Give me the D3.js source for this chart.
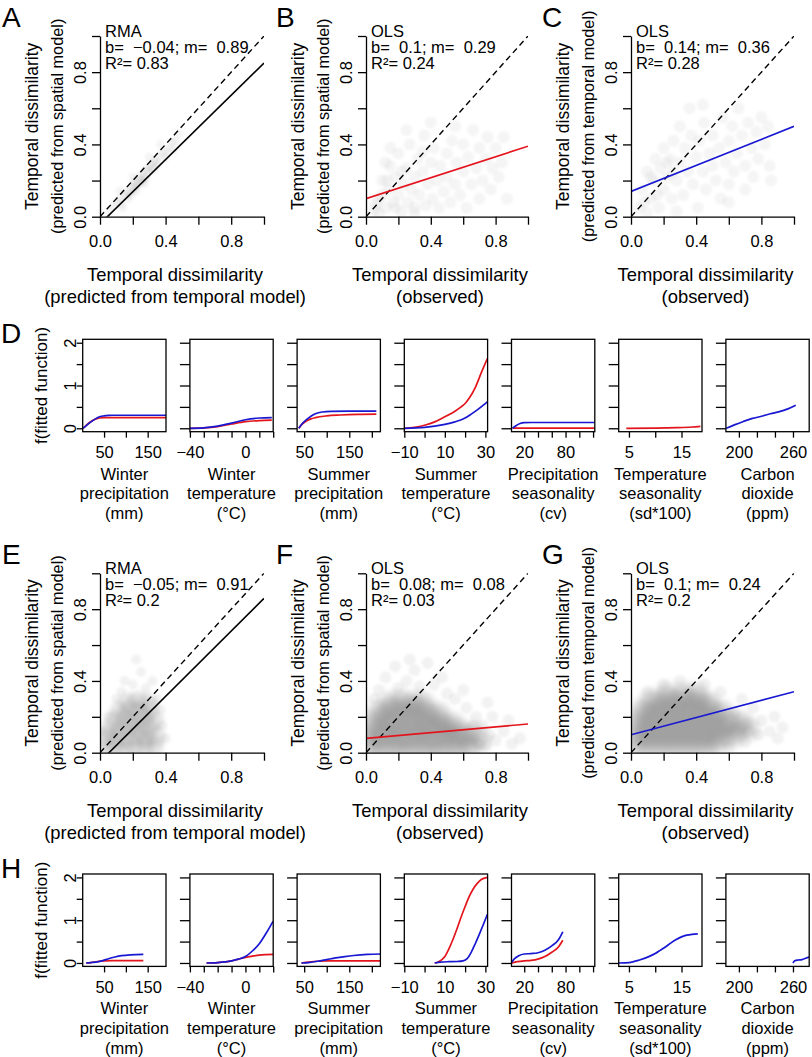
<!DOCTYPE html>
<html><head><meta charset="utf-8">
<script src="https://cdn.jsdelivr.net/npm/d3@7"></script>
<style>
body{margin:0;background:#fff}
svg text{font-family:"Liberation Sans",Arial,Helvetica,sans-serif;fill:#000}
</style>
</head><body>
<svg id="chart" width="812" height="1057"></svg>
<script>
// ---------------- DATA ----------------
const panelLetters = ["A","B","C","E","F","G"];
const fitMethods   = ["RMA","OLS","OLS","RMA","OLS","OLS"];
const fitB  = [-0.04, 0.1, 0.14, -0.05, 0.08, 0.1];
const fitM  = [0.89, 0.29, 0.36, 0.91, 0.08, 0.24];
const fitR2 = ["0.83","0.24","0.28","0.2","0.03","0.2"];
const fitKinds = ["rma","spatial","temporal","rma","spatial","temporal"];
const yLabel1 = "Temporal dissimilarity";
const xLabel1 = "Temporal dissimilarity";
const yLabel2 = ["(predicted from spatial model)","(predicted from spatial model)","(predicted from temporal model)",
                 "(predicted from spatial model)","(predicted from spatial model)","(predicted from temporal model)"];
const xLabel2 = ["(predicted from temporal model)","(observed)","(observed)",
                 "(predicted from temporal model)","(observed)","(observed)"];
const scatterTicks = [0,0.2,0.4,0.6,0.8,1.0];
const scatterTickLabels = [0,0.4,0.8];

// estimated point clouds
const cloudA = [[0.06,0.03],[0.08,0.06],[0.1,0.08],[0.12,0.1],[0.13,0.07],[0.15,0.12],[0.16,0.14],[0.18,0.13],[0.19,0.17],[0.2,0.15],
 [0.21,0.19],[0.22,0.17],[0.23,0.2],[0.24,0.22],[0.25,0.2],[0.26,0.24],[0.27,0.22],[0.28,0.26],[0.29,0.25],[0.3,0.27],
 [0.31,0.29],[0.32,0.26],[0.33,0.3],[0.34,0.31],[0.35,0.29],[0.36,0.33],[0.38,0.35],[0.4,0.36],[0.42,0.38],[0.44,0.41],
 [0.46,0.42],[0.48,0.46],[0.17,0.1],[0.22,0.14],[0.27,0.18],[0.12,0.14],[0.2,0.22],[0.3,0.33],[0.37,0.4],[0.14,0.05],
 [0.24,0.18],[0.26,0.2],[0.28,0.21],[0.21,0.16],[0.19,0.12],[0.33,0.27],[0.4,0.33],[0.45,0.37]];
const cloudB = [[0.05,0.04],[0.08,0.1],[0.1,0.2],[0.12,0.05],[0.14,0.15],[0.15,0.28],[0.17,0.08],[0.18,0.22],[0.2,0.12],[0.2,0.35],
 [0.22,0.03],[0.23,0.18],[0.25,0.27],[0.26,0.08],[0.27,0.4],[0.28,0.15],[0.3,0.22],[0.3,0.05],[0.32,0.32],[0.33,0.12],
 [0.35,0.25],[0.36,0.45],[0.37,0.06],[0.38,0.18],[0.4,0.3],[0.41,0.1],[0.42,0.38],[0.44,0.2],[0.45,0.05],[0.46,0.28],
 [0.48,0.14],[0.5,0.35],[0.5,0.22],[0.52,0.08],[0.53,0.42],[0.55,0.18],[0.56,0.3],[0.58,0.12],[0.6,0.25],[0.6,0.4],
 [0.62,0.05],[0.63,0.33],[0.65,0.18],[0.66,0.48],[0.68,0.27],[0.7,0.1],[0.7,0.38],[0.72,0.2],[0.74,0.32],[0.75,0.44],
 [0.77,0.15],[0.78,0.27],[0.8,0.38],[0.82,0.22],[0.84,0.3],[0.85,0.44],[0.87,0.1],[0.4,0.52],[0.25,0.48],[0.15,0.38],
 [0.08,0.02],[0.12,0.3],[0.3,0.02],[0.55,0.5],[0.35,0.36],[0.1,0.12],[0.18,0.05],[0.06,0.07],[0.22,0.25],[0.13,0.2]];
const cloudC = [[0.05,0.05],[0.07,0.15],[0.1,0.25],[0.12,0.1],[0.14,0.2],[0.15,0.32],[0.17,0.05],[0.18,0.27],[0.2,0.15],[0.2,0.38],
 [0.22,0.22],[0.24,0.32],[0.25,0.1],[0.26,0.42],[0.28,0.2],[0.3,0.3],[0.3,0.5],[0.32,0.12],[0.33,0.38],[0.35,0.25],
 [0.36,0.6],[0.37,0.45],[0.38,0.18],[0.4,0.33],[0.41,0.05],[0.42,0.42],[0.44,0.25],[0.45,0.52],[0.46,0.15],[0.48,0.35],
 [0.5,0.28],[0.5,0.45],[0.52,0.2],[0.54,0.38],[0.55,0.1],[0.56,0.55],[0.58,0.3],[0.6,0.42],[0.6,0.18],[0.62,0.5],
 [0.63,0.25],[0.65,0.35],[0.66,0.6],[0.68,0.45],[0.7,0.28],[0.7,0.15],[0.72,0.52],[0.74,0.38],[0.75,0.22],[0.77,0.47],
 [0.78,0.32],[0.8,0.55],[0.82,0.4],[0.84,0.5],[0.85,0.28],[0.86,0.2],[0.1,0.02],[0.28,0.03],[0.44,0.62],[0.6,0.08],
 [0.12,0.22],[0.16,0.12],[0.22,0.3],[0.08,0.08],[0.26,0.25]];
const cloudECore = [[0.03,0.03],[0.09,0.03],[0.15,0.02],[0.21,0.03],[0.27,0.03],[0.33,0.04],
 [0.04,0.08],[0.10,0.08],[0.16,0.08],[0.22,0.09],[0.28,0.08],[0.34,0.09],
 [0.06,0.13],[0.12,0.13],[0.18,0.14],[0.24,0.13],[0.30,0.14],
 [0.09,0.18],[0.15,0.19],[0.21,0.18],[0.27,0.19],[0.33,0.18],
 [0.12,0.23],[0.18,0.24],[0.24,0.23],[0.30,0.24],
 [0.17,0.28],[0.23,0.29],[0.29,0.28]];
const cloudEOuter = [[0.2,0.38],[0.25,0.45],[0.22,0.52],[0.28,0.36],[0.35,0.3],[0.38,0.15],[0.4,0.08],[0.02,0.12],
 [0.05,0.2],[0.1,0.3],[0.15,0.4],[0.32,0.4],[0.13,0.34],[0.37,0.24]];
const cloudFCore = [[0.03,0.03],[0.09,0.02],[0.15,0.03],[0.21,0.03],[0.27,0.02],[0.33,0.03],[0.39,0.03],[0.45,0.02],[0.51,0.03],[0.57,0.03],[0.64,0.03],
 [0.02,0.08],[0.08,0.08],[0.14,0.09],[0.20,0.08],[0.26,0.08],[0.32,0.09],[0.38,0.08],[0.44,0.08],[0.50,0.09],[0.56,0.08],[0.62,0.08],[0.70,0.07],
 [0.03,0.13],[0.09,0.13],[0.15,0.14],[0.21,0.13],[0.27,0.14],[0.33,0.13],[0.39,0.14],[0.45,0.13],[0.51,0.13],[0.58,0.12],[0.66,0.11],
 [0.05,0.18],[0.11,0.19],[0.17,0.18],[0.23,0.19],[0.29,0.19],[0.35,0.18],[0.41,0.19],[0.47,0.17],[0.54,0.16],
 [0.08,0.23],[0.14,0.24],[0.20,0.24],[0.26,0.24],[0.32,0.24],[0.38,0.23],[0.45,0.22],
 [0.15,0.28],[0.22,0.29],[0.29,0.28],[0.35,0.28]];
const cloudFOuter = [[0.12,0.42],[0.18,0.48],[0.25,0.4],[0.3,0.46],[0.38,0.5],[0.42,0.38],[0.08,0.35],[0.2,0.36],[0.33,0.37],
 [0.5,0.33],[0.55,0.3],[0.62,0.25],[0.68,0.2],[0.72,0.15],[0.76,0.1],[0.8,0.07],[0.85,0.12],[0.9,0.05],[0.95,0.08],
 [0.78,0.2],[0.7,0.05],[0.47,0.42],[0.6,0.35],[0.05,0.3],[0.88,0.18],[0.27,0.52],[0.75,0.28],[0.66,0.15],[0.74,0.04]];
const cloudGCore = [[0.04,0.04],[0.10,0.04],[0.16,0.04],[0.22,0.04],[0.28,0.04],[0.34,0.04],[0.40,0.04],[0.46,0.04],[0.52,0.05],
 [0.03,0.09],[0.09,0.09],[0.15,0.09],[0.21,0.09],[0.27,0.09],[0.33,0.09],[0.39,0.09],[0.45,0.09],[0.51,0.09],[0.57,0.09],[0.63,0.09],
 [0.04,0.14],[0.10,0.14],[0.16,0.14],[0.22,0.14],[0.28,0.14],[0.34,0.14],[0.40,0.14],[0.46,0.14],[0.52,0.14],[0.58,0.14],[0.65,0.13],[0.72,0.13],
 [0.05,0.19],[0.11,0.19],[0.17,0.19],[0.23,0.19],[0.29,0.19],[0.35,0.19],[0.41,0.19],[0.47,0.19],[0.53,0.19],[0.60,0.18],[0.68,0.17],
 [0.07,0.24],[0.13,0.24],[0.19,0.24],[0.25,0.24],[0.31,0.24],[0.37,0.24],[0.43,0.24],[0.49,0.24],[0.56,0.23],
 [0.12,0.29],[0.18,0.29],[0.24,0.29],[0.30,0.29],[0.36,0.29],[0.42,0.29],[0.48,0.28],
 [0.22,0.33],[0.32,0.33],[0.40,0.33]];
const cloudGOuter = [[0.75,0.25],[0.8,0.18],[0.85,0.12],[0.9,0.08],[0.78,0.1],[0.7,0.06],[0.6,0.03],[0.68,0.3],[0.55,0.34],
 [0.45,0.38],[0.3,0.4],[0.2,0.38],[0.1,0.34],[0.88,0.2],[0.93,0.14],[0.72,0.12],[0.64,0.22]];

// GAM partial-response panels (D and H)
const gamLabels = [["Winter","precipitation","(mm)"],["Winter","temperature","(°C)"],["Summer","precipitation","(mm)"],
  ["Summer","temperature","(°C)"],["Precipitation","seasonality","(cv)"],["Temperature","seasonality","(sd*100)"],["Carbon","dioxide","(ppm)"]];
const gamDomains = [[1,192],[-40,20],[34.3,219],[-10,31.1],[1.5,122.5],[3.05,18.9],[185.6,278]];
const gamTicks = [[50,100,150],[-40,-30,-20,-10,0,10,20],[50,100,150,200],[-10,0,10,20,30],[20,40,60,80,100,120],[5,10,15],[200,220,240,260]];
const gamTickLabels = [[50,150],[-40,0],[50,150],[-10,10,30],[20,80],[5,15],[200,260]];
const gamYTicks = [0,0.5,1,1.5,2];
const gamYTickLabels = [0,1,2];

const dBlue = [
 [[2,0],[10,0.07],[20,0.15],[30,0.22],[40,0.27],[50,0.29],[60,0.3],[70,0.305],[100,0.305],[192,0.305]],
 [[-40,0],[-30,0.01],[-20,0.05],[-10,0.12],[0,0.2],[10,0.24],[19,0.25]],
 [[38,0],[45,0.1],[55,0.2],[65,0.28],[75,0.34],[90,0.38],[110,0.395],[150,0.4],[210,0.4]],
 [[-10,0],[0,0.02],[5,0.05],[10,0.09],[15,0.15],[20,0.24],[23,0.33],[26,0.43],[29,0.54],[31,0.62]],
 [[3,0],[8,0.06],[14,0.11],[20,0.13],[30,0.135],[122,0.135]],
 [],
 [[186,0],[195,0.08],[205,0.16],[215,0.23],[225,0.28],[235,0.34],[245,0.39],[255,0.46],[263,0.54]]
];
const dRed = [
 [[2,0],[10,0.08],[20,0.16],[30,0.21],[40,0.24],[50,0.25],[192,0.25]],
 [[-40,0],[-30,0.01],[-20,0.04],[-10,0.1],[0,0.155],[10,0.18],[19,0.19]],
 [[38,0],[45,0.09],[55,0.17],[65,0.22],[75,0.25],[100,0.29],[130,0.31],[170,0.325],[210,0.33]],
 [[-10,0],[-5,0.02],[0,0.07],[5,0.15],[10,0.27],[15,0.4],[18,0.5],[20,0.58],[22,0.7],[25,0.95],[28,1.3],[31,1.63]],
 [[3,0.005],[122,0.005]],
 [[4.5,0],[10,0.005],[14,0.015],[17,0.03],[18.6,0.045]],
 []
];
const hBlue = [
 [[9,0],[20,0.01],[30,0.02],[45,0.05],[60,0.1],[75,0.14],[90,0.17],[110,0.19],[140,0.2]],
 [[-28,0],[-20,0.01],[-10,0.05],[-5,0.09],[0,0.15],[5,0.28],[10,0.45],[15,0.7],[20,0.98]],
 [[44,0],[60,0.01],[80,0.04],[100,0.08],[120,0.12],[140,0.15],[160,0.175],[190,0.2],[219,0.21]],
 [[5,0],[8,0.02],[12,0.03],[16,0.035],[19,0.05],[21,0.1],[23,0.25],[25,0.45],[27,0.67],[29,0.9],[31,1.14]],
 [[2,0.02],[6,0.1],[12,0.17],[20,0.21],[30,0.22],[40,0.24],[50,0.3],[60,0.4],[70,0.55],[76,0.73]],
 [[3.1,0],[5,0.01],[7,0.07],[9,0.16],[10,0.22],[11,0.3],[12,0.38],[13,0.47],[14,0.55],[15,0.61],[16,0.65],[17,0.67],[18.1,0.68]],
 [[260,0],[262,0.05],[266,0.07],[270,0.08],[274,0.11],[278,0.14]]
];
const hRed = [
 [[9,0],[20,0.01],[35,0.035],[50,0.05],[70,0.055],[140,0.055]],
 [[-28,0],[-20,0.01],[-10,0.05],[-5,0.09],[0,0.13],[5,0.16],[10,0.185],[15,0.195],[20,0.2]],
 [[44,0],[60,0.02],[80,0.04],[100,0.05],[219,0.05]],
 [[5,0],[7,0.03],[10,0.15],[12,0.33],[14,0.55],[16,0.8],[18,1.07],[20,1.32],[22,1.55],[24,1.73],[26,1.86],[28,1.95],[30,1.99],[31,2.0]],
 [[2,0],[10,0.03],[20,0.05],[30,0.06],[40,0.09],[50,0.15],[60,0.25],[70,0.38],[76,0.53]],
 [],
 []
];

// ---------------- DRAWING ----------------
const RED = "#e3141c", BLUE = "#1818d2";
const svg = d3.select("#chart");
const fmtNum = v => String(v).replace("-", "\u2212");

const defs = svg.append("defs");
[["soft1", 1.2], ["soft2", 2.2], ["soft3", 3]].forEach(([id, s]) => {
  defs.append("filter").attr("id", id).attr("x", "-20%").attr("y", "-20%").attr("width", "140%").attr("height", "140%")
    .append("feGaussianBlur").attr("stdDeviation", s);
});

const scatterCols = [[100,264],[366,528],[631,794]];
const scatterRows = [[36,216.7],[573.3,752.7]];
const clouds = [
  [{pts:cloudA,r:4.5,op:0.08,f:"soft1"}],
  [{pts:cloudB,r:6,op:0.08,f:"soft1"}],
  [{pts:cloudC,r:6,op:0.08,f:"soft1"}],
  [{pts:cloudEOuter,r:5,op:0.1,f:"soft1"},{pts:cloudECore,r:10,op:0.2,f:"soft2"}],
  [{pts:cloudFOuter,r:6,op:0.1,f:"soft1"},{pts:cloudFCore,r:11,op:0.27,f:"soft3"}],
  [{pts:cloudGOuter,r:6,op:0.1,f:"soft1"},{pts:cloudGCore,r:11,op:0.27,f:"soft3"}]
];
const fitColor = k => k === "rma" ? "#000" : (k === "spatial" ? RED : BLUE);

panelLetters.forEach((letter, i) => {
  const col = scatterCols[i % 3], row = scatterRows[Math.floor(i / 3)];
  const x = d3.scaleLinear().domain([0,1]).range(col);
  const y = d3.scaleLinear().domain([0,1]).range([row[1], row[0]]);
  const g = svg.append("g");
  const clipId = "clip" + i;
  defs.append("clipPath").attr("id", clipId).append("rect")
    .attr("x", col[0]).attr("y", row[0]).attr("width", col[1]-col[0]).attr("height", row[1]-row[0]);
  const pg = g.append("g").attr("clip-path", `url(#${clipId})`);
  clouds[i].forEach(c => {
    pg.append("g").attr("filter", `url(#${c.f})`).selectAll("circle").data(c.pts).join("circle")
      .attr("cx", d => x(d[0])).attr("cy", d => y(d[1])).attr("r", c.r)
      .attr("fill", "#808080").attr("fill-opacity", c.op);
  });
  // 1:1 dashed line
  pg.append("line").attr("x1", x(0)).attr("y1", y(0)).attr("x2", x(1)).attr("y2", y(1))
    .attr("stroke", "#000").attr("stroke-width", 1.4).attr("stroke-dasharray", "6,4");
  // fitted line
  pg.append("line").attr("x1", x(0)).attr("y1", y(fitB[i])).attr("x2", x(1)).attr("y2", y(fitB[i] + fitM[i]))
    .attr("stroke", fitColor(fitKinds[i])).attr("stroke-width", 1.6);

  // axes
  const xa = d3.axisBottom(x).tickValues(scatterTicks).tickSize(8).tickSizeOuter(0).tickPadding(11)
    .tickFormat(d => scatterTickLabels.some(v => Math.abs(v-d) < 1e-9) ? d.toFixed(1) : "");
  const gx = g.append("g").attr("transform", `translate(0,${row[1]})`).call(xa);
  const ya = d3.axisLeft(y).tickValues(scatterTicks).tickSize(8).tickSizeOuter(0)
    .tickFormat(d => scatterTickLabels.some(v => Math.abs(v-d) < 1e-9) ? d.toFixed(1) : "");
  const gy = g.append("g").attr("transform", `translate(${col[0]},0)`).call(ya);
  [gx, gy].forEach(a => {
    a.attr("font-family", null).attr("font-size", null);
    a.select(".domain").attr("stroke-width", 1.3);
    a.selectAll(".tick line").attr("stroke-width", 1.3);
    a.selectAll(".tick text").attr("font-size", 16.5);
  });
  gy.selectAll(".tick text").attr("transform", "rotate(-90)").attr("x", 0).attr("y", -14)
    .attr("dy", 0).attr("text-anchor", "middle");

  // axis labels
  const cx = (col[0] + col[1]) / 2 - 7, cy = (row[0] + row[1]) / 2;
  g.append("text").attr("x", cx).attr("y", row[1] + 64).attr("text-anchor", "middle").attr("font-size", 18.4).text(xLabel1);
  g.append("text").attr("x", cx).attr("y", row[1] + 86).attr("text-anchor", "middle").attr("font-size", 18.4).text(xLabel2[i]);
  g.append("text").attr("transform", `translate(${col[0]-62},${cy}) rotate(-90)`).attr("text-anchor", "middle")
    .attr("font-size", 17.5).text(yLabel1);
  g.append("text").attr("transform", `translate(${col[0]-37},${cy}) rotate(-90)`).attr("text-anchor", "middle")
    .attr("font-size", 16.3).text(yLabel2[i]);

  // annotation
  const ann = [fitMethods[i], `b=\u00a0\u00a0${fmtNum(fitB[i])}; m=\u00a0\u00a0${fmtNum(fitM[i])}`, `R\u00b2= ${fitR2[i]}`];
  ann.forEach((t, k) => {
    g.append("text").attr("x", col[0] + 5).attr("y", row[0] + 0.5 + k * 16.2).attr("font-size", 16.5).text(t);
  });
  // panel letter
  const lx = [2, 276, 542][i % 3];
  g.append("text").attr("x", lx).attr("y", row[0] - 9).attr("font-size", 28).text(letter);
});

// GAM rows
const gamRows = [
  {letter:"D", top:339.3, bottom:431.7, red:dRed, blue:dBlue},
  {letter:"H", top:874, bottom:966.4, red:hRed, blue:hBlue}
];
const boxW = 83.3;
gamRows.forEach(rowCfg => {
  const y = d3.scaleLinear().domain([-0.08, 2.08]).range([rowCfg.bottom, rowCfg.top]);
  gamLabels.forEach((lab, j) => {
    const left = 82.7 + j * 107.2;
    const x = d3.scaleLinear().domain(gamDomains[j]).range([left, left + boxW]);
    const g = svg.append("g");
    const clipId = "gclip" + rowCfg.letter + j;
    defs.append("clipPath").attr("id", clipId).append("rect")
      .attr("x", left).attr("y", rowCfg.top).attr("width", boxW).attr("height", rowCfg.bottom - rowCfg.top);
    const pg = g.append("g").attr("clip-path", `url(#${clipId})`);
    const line = d3.line().x(d => x(d[0])).y(d => y(d[1])).curve(d3.curveMonotoneX);
    [[rowCfg.red[j], RED], [rowCfg.blue[j], BLUE]].forEach(([pts, c]) => {
      if (pts && pts.length) pg.append("path").attr("d", line(pts)).attr("fill", "none")
        .attr("stroke", c).attr("stroke-width", 1.7);
    });
    // box
    g.append("rect").attr("x", left).attr("y", rowCfg.top).attr("width", boxW).attr("height", rowCfg.bottom - rowCfg.top)
      .attr("fill", "none").attr("stroke", "#000").attr("stroke-width", 1.3);
    // x axis
    const xa = d3.axisBottom(x).tickValues(gamTicks[j]).tickSize(6).tickSizeOuter(0).tickPadding(9)
      .tickFormat(d => gamTickLabels[j].includes(d) ? fmtNum(d) : "");
    const gx = g.append("g").attr("transform", `translate(0,${rowCfg.bottom})`).call(xa);
    gx.select(".domain").remove();
    // y axis
    const ya = d3.axisLeft(y).tickValues(gamYTicks).tickSize(j === 0 ? 6 : 10).tickSizeOuter(0)
      .tickFormat(d => (j === 0 && gamYTickLabels.includes(d)) ? String(d) : "");
    const gy = g.append("g").attr("transform", `translate(${left},0)`).call(ya);
    gy.select(".domain").remove();
    [gx, gy].forEach(a => {
      a.attr("font-family", null).attr("font-size", null);
      a.selectAll(".tick line").attr("stroke-width", 1.3);
      a.selectAll(".tick text").attr("font-size", 16.5);
    });
    gy.selectAll(".tick text").attr("transform", "rotate(-90)").attr("x", 0).attr("y", -7)
      .attr("dy", 0).attr("text-anchor", "middle");
    // labels
    lab.forEach((t, k) => {
      g.append("text").attr("x", left + boxW / 2).attr("y", rowCfg.bottom + 48 + k * 19.7)
        .attr("text-anchor", "middle").attr("font-size", 16.5).text(t);
    });
    if (j === 0) {
      g.append("text").attr("transform", `translate(47,${(rowCfg.top + rowCfg.bottom) / 2}) rotate(-90)`)
        .attr("text-anchor", "middle").attr("font-size", 17).text("f(fitted function)");
    }
  });
  svg.append("text").attr("x", 1).attr("y", rowCfg.top + 4).attr("font-size", 28).text(rowCfg.letter);
});
</script>
</body></html>
